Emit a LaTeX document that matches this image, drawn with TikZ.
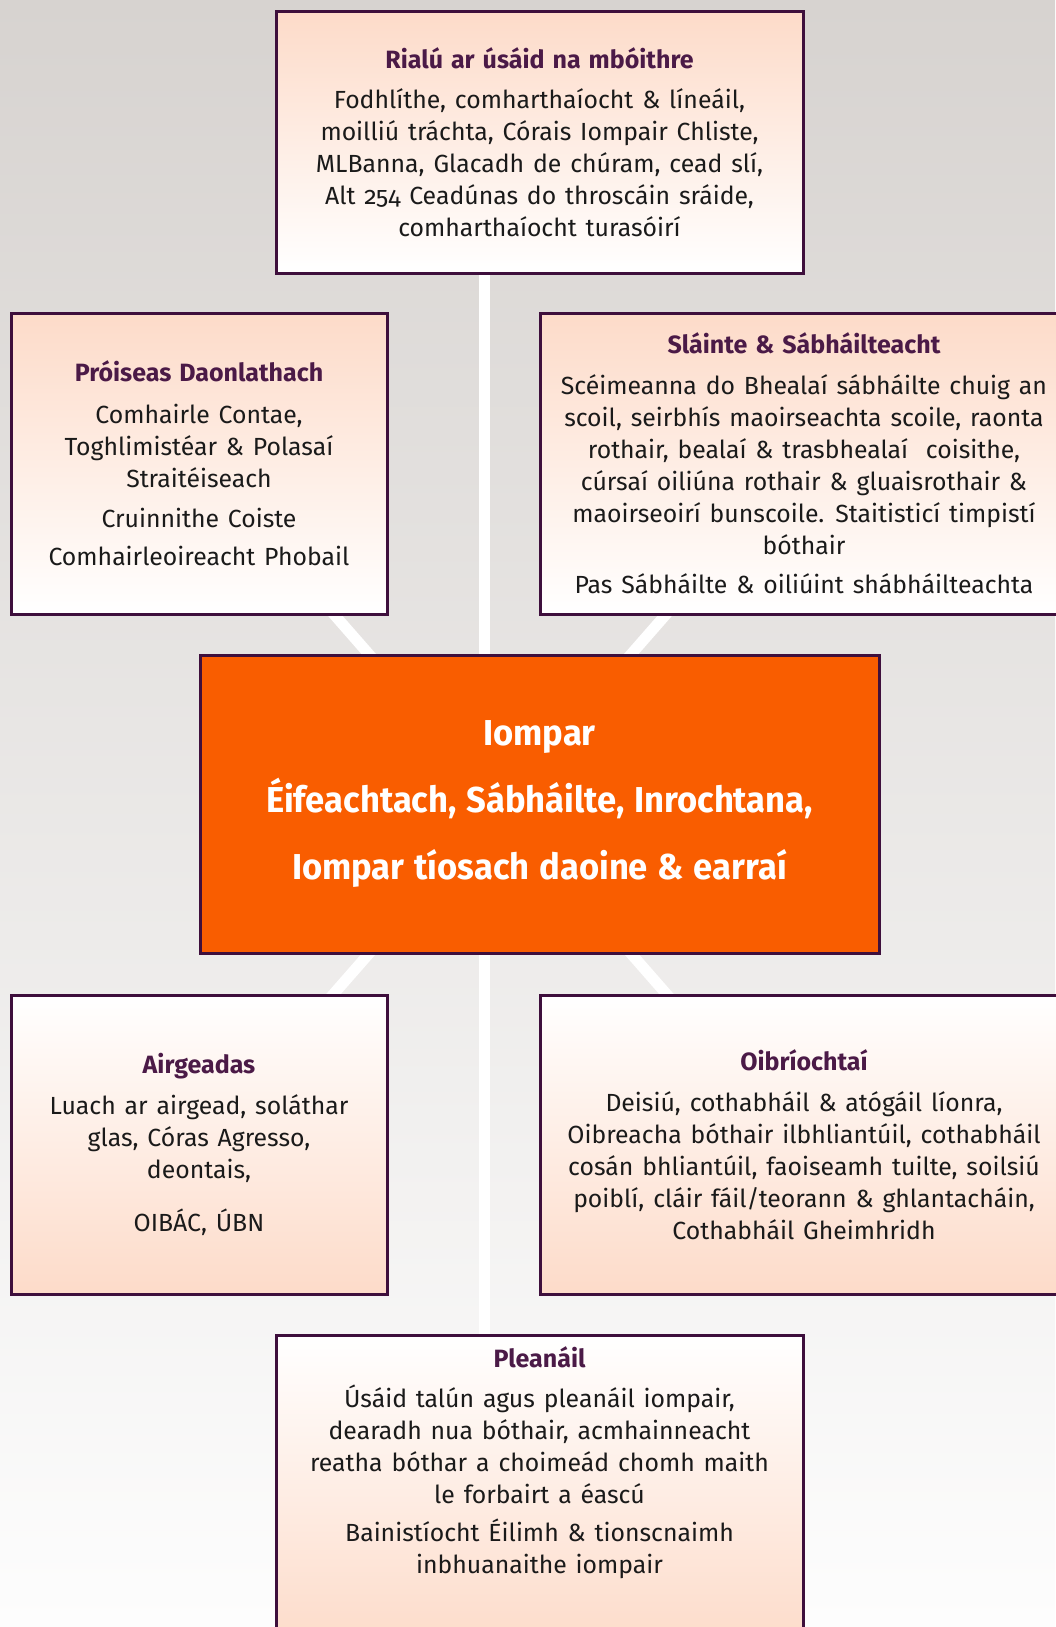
\documentclass[tikz,border=0pt]{standalone}
\usepackage{fontspec}
\setmainfont{Fira Sans}[Numbers=OldStyle, WordSpace=1.35]
\newfontfamily\condfont{Fira Sans}[FakeStretch=0.96, WordSpace=1.2]
\usetikzlibrary{shadings}
\definecolor{bgtop}{HTML}{D7D3D0}
\definecolor{bgbot}{HTML}{FDFDFD}
\definecolor{peach}{HTML}{FDDBC9}
\definecolor{edgec}{HTML}{3E0F3C}
\definecolor{titlec}{HTML}{4B1A47}
\definecolor{orangec}{HTML}{F95D00}
\definecolor{bodyc}{HTML}{1A1A1A}
\newcommand\boxttl[1]{{\bfseries\color{titlec}\fontsize{25}{32}\selectfont#1}}
\pgfdeclarelayer{bglayer}
\pgfdeclarelayer{linklayer}
\pgfsetlayers{bglayer,linklayer,main}
\begin{document}
\begin{tikzpicture}[x=1pt,y=-1pt,
  box/.style={draw=edgec, line width=3pt, rectangle, inner sep=0pt, align=center,
    font=\fontsize{24.8}{32}\selectfont, text=bodyc},
  upbox/.style={box, top color=peach, bottom color=white},
  lowbox/.style={box, top color=white, bottom color=peach},
  corebox/.style={draw=edgec, line width=3pt, rectangle, inner sep=0pt, align=center,
    fill=orangec, text=white, font=\condfont\bfseries\fontsize{36}{67}\selectfont},
  link/.style={draw=white, line width=11pt},
  plain/.style={inner sep=0pt, align=center, font=\fontsize{24.8}{32}\selectfont, text=bodyc}
]
\useasboundingbox (0,0) rectangle (1055,1627);
\begin{pgfonlayer}{bglayer}
  \path[top color=bgtop, bottom color=bgbot] (0,0) rectangle (1055,1627);
\end{pgfonlayer}

\node[upbox, minimum width=527, minimum height=261] (rial) at (539.5,142.5) {%
\boxttl{Rialú ar úsáid na mbóithre}\\[8pt]
Fodhlíthe, comharthaíocht \& líneáil,\\
moilliú tráchta, Córais Iompair Chliste,\\
MLBanna, Glacadh de chúram, cead slí,\\
Alt 254 Ceadúnas do throscáin sráide,\\
comharthaíocht turasóirí};

\node[upbox, minimum width=376, minimum height=301] (pd) at (199,463.5) {%
\boxttl{Próiseas Daonlathach}\\[10pt]
Comhairle Contae,\\
Toghlimistéar \& Polasaí\\
Straitéiseach\\[8pt]
Cruinnithe Coiste\\[6pt]
Comhairleoireacht Phobail};

\node[upbox, minimum width=528, minimum height=301] (sl) at (804,463.5) {%
\boxttl{Sláinte \& Sábháilteacht}\\[9pt]
Scéimeanna do Bhealaí sábháilte chuig an\\
scoil, seirbhís maoirseachta scoile, raonta\\
rothair, bealaí \& trasbhealaí\ \ coisithe,\\
cúrsaí oiliúna rothair \& gluaisrothair \&\\
maoirseoirí bunscoile. Staitisticí timpistí\\
bóthair\\[7pt]
Pas Sábháilte \& oiliúint shábháilteachta};

\node[corebox, minimum width=679, minimum height=298] (core) at (539.5,804) {%
Iompar\\
Éifeachtach, Sábháilte, Inrochtana,\\
Iompar tíosach daoine \& earraí};

\node[lowbox, minimum width=376, minimum height=299] (ag) at (199,1144.5) {%
\boxttl{Airgeadas}\\[9pt]
Luach ar airgead, soláthar\\
glas, Córas Agresso,\\
deontais,\\[21pt]
OIBÁC, ÚBN};

\node[lowbox, minimum width=528, minimum height=299] (ob) at (804,1144.5) {%
\boxttl{Oibríochtaí}\\[9pt]
Deisiú, cothabháil \& atógáil líonra,\\
Oibreacha bóthair ilbhliantúil, cothabháil\\
cosán bhliantúil, faoiseamh tuilte, soilsiú\\
poiblí, cláir fáil/teorann \& ghlantacháin,\\
Cothabháil Gheimhridh};

\node[lowbox, minimum width=527, minimum height=315] (plean) at (539.5,1492.5) {};
\node[plain] (pleantext) at (539.5,1463) {%
\boxttl{Pleanáil}\\[8pt]
Úsáid talún agus pleanáil iompair,\\
dearadh nua bóthair, acmhainneacht\\
reatha bóthar a choimeád chomh maith\\
le forbairt a éascú\\[6pt]
Bainistíocht Éilimh \& tionscnaimh\\
inbhuanaithe iompair};

\coordinate (hub) at ([xshift=-39.5pt]core.center);
\begin{pgfonlayer}{linklayer}
  \draw[link] ([xshift=-55pt]rial.south) -- ([xshift=-55pt]plean.north);
  \draw[link, shorten >=-30pt] (hub) -- ([xshift=136pt]pd.south);
  \draw[link, shorten >=-30pt] (hub) -- ([xshift=-139pt]sl.south);
  \draw[link, shorten >=-30pt] (hub) -- ([xshift=135pt]ag.north);
  \draw[link, shorten >=-30pt] (hub) -- ([xshift=-138pt]ob.north);
\end{pgfonlayer}
\end{tikzpicture}
\end{document}
